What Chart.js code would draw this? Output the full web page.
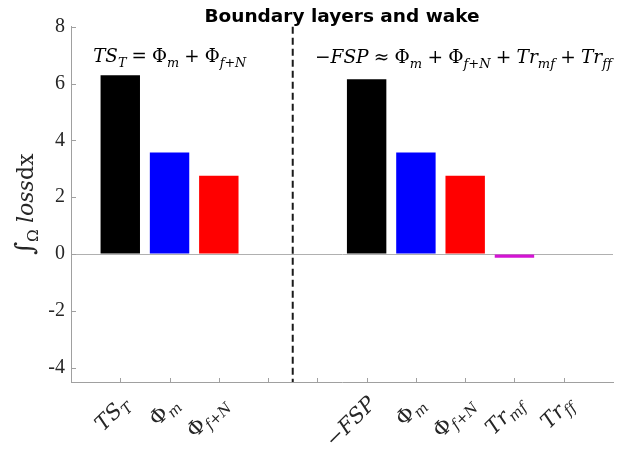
<!DOCTYPE html>
<html><head><meta charset="utf-8">
<script src="https://cdn.jsdelivr.net/npm/chart.js@4.4.0/dist/chart.umd.min.js"></script>
<style>html,body{margin:0;padding:0;background:#fff;overflow:hidden}</style>
</head><body>
<canvas id="c" width="632" height="451"></canvas>
<script>
// ---- data ----
const categories = ['TS_T','Φ_m','Φ_{f+N}','','','−FSP','Φ_m','Φ_{f+N}','Tr_{mf}','Tr_{ff}'];
const positions  = [1,2,3,4,5,6,7,8,9,10];
const values     = [6.29,3.57,2.76,null,null,6.15,3.57,2.76,-0.13,0.0];
const barColors  = ['#000000','#0000ff','#ff0000',null,null,'#000000','#0000ff','#ff0000','#d414d4','#d414d4'];
const yTicks     = [-4,-2,0,2,4,6,8];
const separatorX = 4.5;
const titleText  = 'Boundary layers and wake';
const yLabel     = '∫_Ω loss[dx]';
const leftNote   = 'TS_T = Φ_m + Φ_{f+N}';
const rightNote  = '−FSP ≈ Φ_m + Φ_{f+N} + Tr_{mf} + Tr_{ff}';

// ---- simple math-text renderer ----
const MATH_FONT = '"DejaVu Serif"';
function tokens(str){
  const out=[]; let i=0, roman=false;
  while(i<str.length){
    const ch=str[i];
    if(ch==='['){roman=true;i++;continue;}
    if(ch===']'){roman=false;i++;continue;}
    if(ch==='_'){
      let sub='';
      if(str[i+1]==='{'){const j=str.indexOf('}',i+2);sub=str.slice(i+2,j);i=j+1;}
      else {sub=str[i+1];i+=2;}
      for(const c of sub) out.push({c,sub:true,roman});
    } else {out.push({c:ch,sub:false,roman});i++;}
  }
  return out;
}
function tokFont(t,size){
  const s = t.sub ? size*0.7 : (t.c==='∫' ? size*1.15 : size);
  const it = /[A-Za-z]/.test(t.c) && !t.roman;
  return (it?'italic ':'')+s.toFixed(1)+'px '+MATH_FONT;
}
function measureMath(ctx,str,size){
  let w=0;
  for(const t of tokens(str)){
    if(t.c===' '){w+=size*0.28;continue;}
    ctx.font=tokFont(t,size); w+=ctx.measureText(t.c).width;
  }
  return w;
}
function drawMath(ctx,str,x,y,size,align,color){
  const w=measureMath(ctx,str,size);
  let cx = align==='right'? x-w : align==='center'? x-w/2 : x;
  ctx.fillStyle=color||'#000'; ctx.textBaseline='alphabetic'; ctx.textAlign='left';
  for(const t of tokens(str)){
    if(t.c===' '){cx+=size*0.28;continue;}
    ctx.font=tokFont(t,size);
    ctx.fillText(t.c,cx,y+(t.sub?size*0.24:0));
    cx+=ctx.measureText(t.c).width;
  }
}

// ---- build dataset ----
const pts=[], cols=[];
positions.forEach((p,i)=>{ if(values[i]!==null){pts.push({x:p,y:values[i]});cols.push(barColors[i]);} });

const decor = {
  id:'decor',
  afterDraw(chart){
    const {ctx, chartArea:a, scales:{x,y}} = chart;
    ctx.save();
    const line=(x1,y1,x2,y2)=>{ctx.beginPath();ctx.moveTo(x1,y1);ctx.lineTo(x2,y2);ctx.stroke();};
    ctx.strokeStyle='#a0a0a0'; ctx.lineWidth=1;
    positions.forEach(p=>{const px=Math.round(x.getPixelForValue(p))+0.5; line(px,a.bottom,px,a.bottom-4);});
    yTicks.forEach(v=>{const py=Math.round(y.getPixelForValue(v))+0.5; line(a.left,py,a.left+5,py);});
    // separator
    ctx.setLineDash([7,4]); ctx.strokeStyle='#1a1a1a'; ctx.lineWidth=2;
    const sx=x.getPixelForValue(separatorX); line(sx,a.top,sx,a.bottom);
    ctx.setLineDash([]);
    // x labels
    categories.forEach((lab,i)=>{
      if(!lab) return;
      const px=x.getPixelForValue(positions[i]);
      ctx.save(); ctx.translate(px+10,a.bottom+23); ctx.rotate(-Math.PI/4);
      drawMath(ctx,lab,0,0,21,'right','#262626'); ctx.restore();
    });
    // notes
    drawMath(ctx,leftNote,x.getPixelForValue(0.45),y.getPixelForValue(6.75),18.3,'left','#000');
    drawMath(ctx,rightNote,x.getPixelForValue(4.95),y.getPixelForValue(6.72),18.6,'left','#000');
    // y label
    ctx.save(); ctx.translate(33,(a.top+a.bottom)/2); ctx.rotate(-Math.PI/2);
    drawMath(ctx,yLabel,0,0,22,'center','#262626'); ctx.restore();
    ctx.restore();
  }
};

new Chart(document.getElementById('c'),{
  type:'bar',
  data:{datasets:[{data:pts,backgroundColor:cols,borderWidth:0,barPercentage:0.8,categoryPercentage:1.0}]},
  options:{
    responsive:false, animation:false, devicePixelRatio:1,
    layout:{padding:{left:0,right:19,top:0,bottom:0}},
    plugins:{
      legend:{display:false}, tooltip:{enabled:false},
      title:{display:true,text:titleText,fullSize:false,color:'#000',
        font:{family:'"DejaVu Sans"',weight:'bold',size:18.5,lineHeight:1.2},padding:{top:6,bottom:-1.5}}
    },
    scales:{
      x:{type:'linear',min:0,max:11,offset:false,
        grid:{display:false,offset:false},
        border:{display:true,color:'#a0a0a0',width:1},
        ticks:{display:false},
        afterFit:s=>{s.height=69;}
      },
      y:{min:-4.5,max:8,
        afterBuildTicks:s=>{s.ticks=yTicks.map(v=>({value:v}));},
        grid:{drawTicks:false,color:c=>c.tick&&c.tick.value===0?'#b0b0b0':'rgba(0,0,0,0)',lineWidth:1},
        border:{display:true,color:'#a0a0a0',width:1},
        ticks:{padding:6,color:'#262626',font:{family:'"Liberation Serif"',size:20},callback:v=>String(v)},
        afterFit:s=>{s.width=71;}
      }
    }
  },
  plugins:[decor]
});
</script>
</body></html>
